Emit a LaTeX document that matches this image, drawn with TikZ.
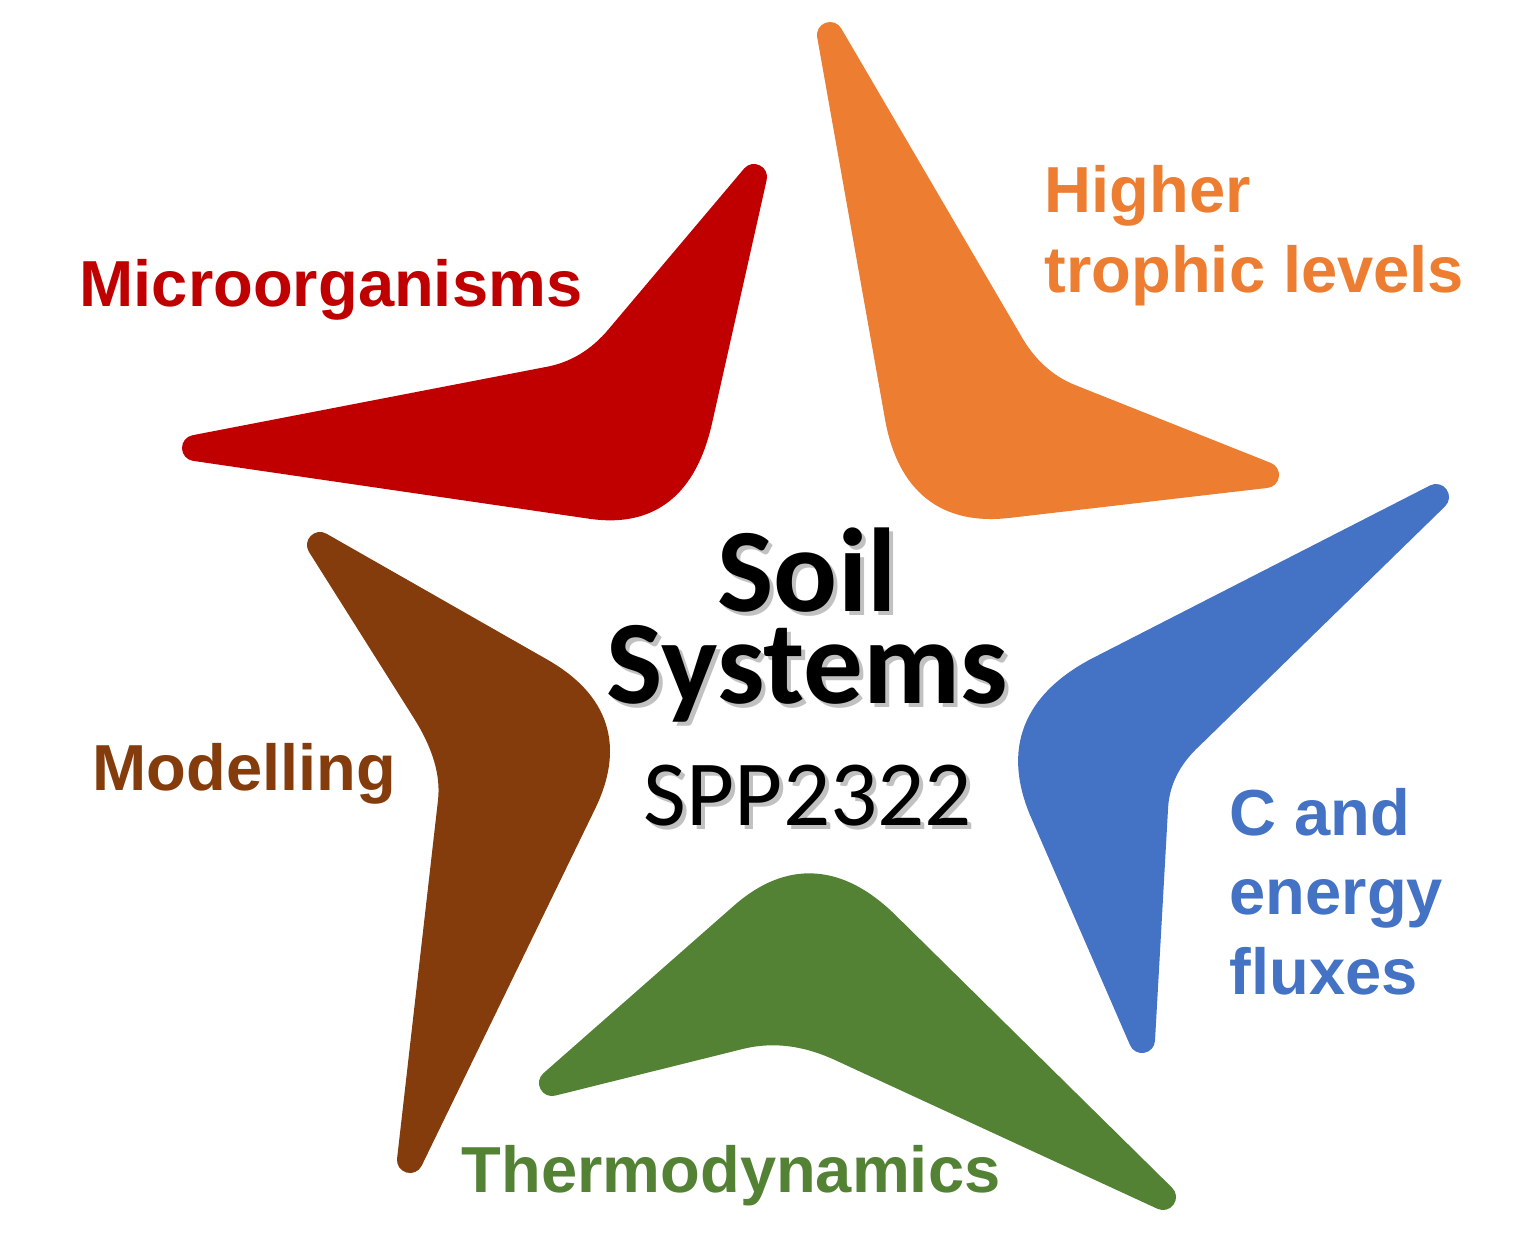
\documentclass[tikz,border=0pt]{standalone}
\usepackage{fontspec}
\newfontfamily\topicfont{Liberation Sans}
\newfontfamily\starfont{Carlito}
\usetikzlibrary{positioning}
\definecolor{micro}{HTML}{C00000}
\definecolor{troph}{HTML}{ED7D31}
\definecolor{flux}{HTML}{4472C4}
\definecolor{thermo}{HTML}{548235}
\definecolor{model}{HTML}{843C0C}
\tikzset{
  blade/.style     = { line width=0.26cm, line join=round },
  topic/.style     = { font=\topicfont\bfseries\fontsize{18.5pt}{22.5pt}\selectfont,
                       inner sep=0pt, anchor=base west, align=left },
  startitle/.style = { font=\starfont\bfseries\fontsize{33.9pt}{25.9pt}\selectfont,
                       inner sep=0pt, anchor=base, align=center },
  starcode/.style  = { font=\starfont\fontsize{26.5pt}{30pt}\selectfont,
                       inner sep=0pt, anchor=base },
  shadowtext/.style= { text=black!30, opacity=0.8 }
}

\begin{document}
\begin{tikzpicture}[x=0.01cm,y=-0.01cm]
  \useasboundingbox (0,0) rectangle (1536,1242);

  % the five blades of the star
  \filldraw [blade,micro]
        (195,448) -- (547,380) .. controls (576,375) and (600,360) .. (619,337)
        -- (754,177) -- (699,422) .. controls (684,486) and (649,514) .. (592,506)
        -- cycle;
  \filldraw [blade,troph]
        (830,35) -- (898,418) .. controls (910,483) and (947,512) .. (1008,505)
        -- (1266,475) -- (1070,397) .. controls (1045,387) and (1024,368) .. (1009,341)
        -- cycle;
  \filldraw [blade,flux]
        (1436,497) -- (1096,671) .. controls (1035,704) and (1017,750) .. (1042,810)
        -- (1142,1040) -- (1155,809) .. controls (1156,782) and (1168,757) .. (1191,736)
        -- cycle;
  \filldraw [blade,thermo]
        (552,1083) -- (743,915) .. controls (790,874) and (838,877) .. (886,924)
        -- (1163,1197) -- (840,1048) .. controls (805,1032) and (771,1028) .. (737,1037)
        -- cycle;
  \filldraw [blade,model]
        (320,545) -- (541,671) .. controls (597,703) and (611,747) .. (583,804)
        -- (410,1160) -- (451,801) .. controls (454,773) and (445,744) .. (426,713)
        -- cycle;

  % topics (base = last line)
  \node (micro)  [topic,text=micro]  at (79,306)   {Microorganisms};
  \node (troph)  [topic,text=troph]  at (1044,292) {Higher\\trophic levels};
  \node (flux)   [topic,text=flux]   at (1229,994) {C and\\energy\\fluxes};
  \node (model)  [topic,text=model]  at (92,790)   {Modelling};
  \node (thermo) [topic,text=thermo] at (461,1192) {Thermodynamics};

  % centre
  \node (soilshadow) [startitle,shadowtext] at (811,707) {Soil\\Systems};
  \node (soil)       [startitle]            at (807,703) {Soil\\Systems};
  \node (sppshadow)  [starcode,shadowtext]  at (812,829) {SPP2322};
  \node (spp)        [starcode]             at (808,825) {SPP2322};
\end{tikzpicture}
\end{document}
